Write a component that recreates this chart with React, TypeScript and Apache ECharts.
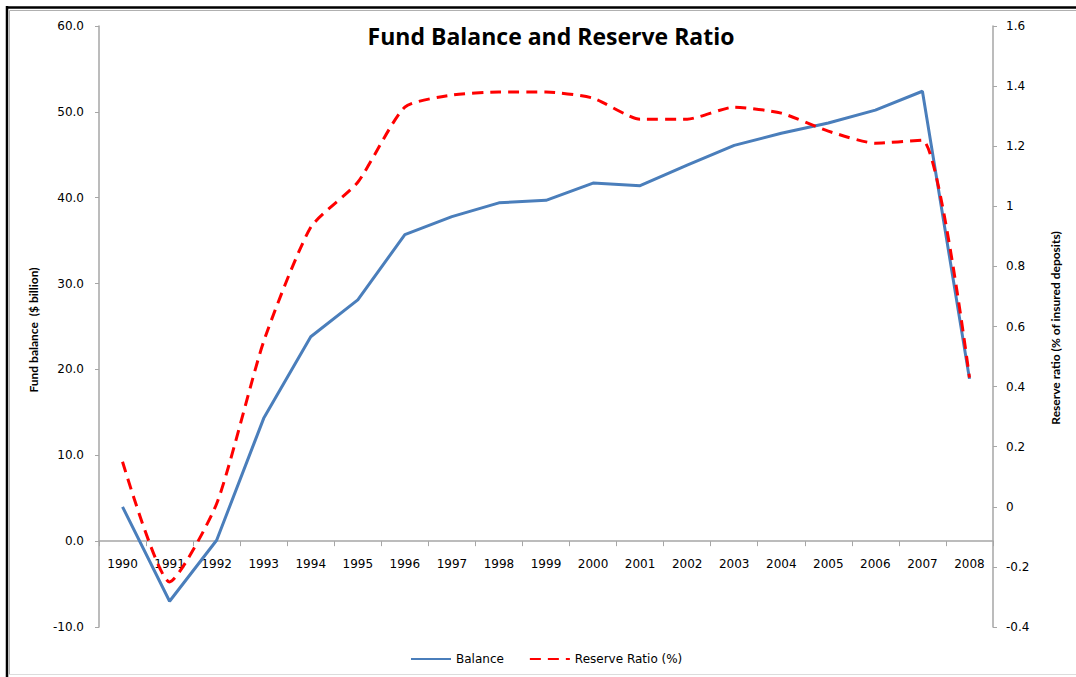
import React, { useEffect, useRef } from "react";
import * as echarts from "echarts";

const years = ["1990","1991","1992","1993","1994","1995","1996","1997","1998","1999","2000","2001","2002","2003","2004","2005","2006","2007","2008"];
const balance = [4.0, -7.0, 0.1, 14.3, 23.8, 28.1, 35.7, 37.8, 39.4, 39.7, 41.7, 41.4, 43.8, 46.1, 47.5, 48.7, 50.2, 52.4, 18.9];
const reserveRatio = [0.15, -0.25, 0.01, 0.55, 0.93, 1.08, 1.33, 1.37, 1.38, 1.38, 1.36, 1.29, 1.29, 1.33, 1.31, 1.25, 1.21, 1.22, 0.43];

const titleText = "Fund Balance and Reserve Ratio";
const leftAxisName = "Fund balance  ($ billion)";
const rightAxisName = "Reserve ratio (% of insured deposits)";

const leftMin = -10;
const leftMax = 60;

export default function App() {
  const ref = useRef<HTMLDivElement>(null);
  useEffect(() => {
    if (!ref.current) return;
    const chart = echarts.init(ref.current, null, { renderer: "svg" });
    const labelFont = "DejaVu Sans, Verdana, sans-serif";
    const nameFont = "Lato, 'Open Sans', sans-serif";
    const axisGrey = "#a6a6a6";
    const gridTop = 26;
    const gridBottom = 50;
    const plotH = 677 - gridTop - gridBottom;
    // shift the category axis up so that it sits on the left axis' zero
    const zeroOffset = -plotH * (0 - leftMin) / (leftMax - leftMin);
    chart.setOption({
      animation: false,
      backgroundColor: "#ffffff",
      grid: { left: 99, right: 83, top: gridTop, bottom: gridBottom, containLabel: false },
      title: {
        text: titleText,
        left: 546,
        top: 19,
        textAlign: "center",
        textStyle: { fontFamily: "'Open Sans', sans-serif", fontWeight: "bold", fontSize: 23, color: "#000" },
      },
      legend: {
        top: 648,
        left: 405,
        itemWidth: 40,
        itemHeight: 4,
        itemGap: 25,
        itemStyle: { opacity: 0 },
        textStyle: { fontFamily: labelFont, fontSize: 12, color: "#000" },
        data: ["Balance", "Reserve Ratio (%)"],
      },
      xAxis: {
        type: "category",
        data: years,
        boundaryGap: true,
        position: "bottom",
        offset: zeroOffset,
        axisLine: { onZero: false, lineStyle: { color: axisGrey, width: 1.5 } },
        axisTick: { show: true, length: 5, lineStyle: { color: axisGrey } },
        axisLabel: { margin: 17, fontFamily: labelFont, fontSize: 12, color: "#000", interval: 0 },
        splitLine: { show: false },
      },
      yAxis: [
        {
          type: "value",
          min: leftMin,
          max: leftMax,
          interval: 10,
          position: "left",
          axisLine: { show: true, onZero: false, lineStyle: { color: axisGrey, width: 1.5 } },
          axisTick: { show: true, length: 4, lineStyle: { color: axisGrey } },
          axisLabel: {
            margin: 15,
            fontFamily: labelFont,
            fontSize: 12,
            color: "#000",
            formatter: (v: number) => v.toFixed(1),
          },
          splitLine: { show: false },
        },
        {
          type: "value",
          min: -0.4,
          max: 1.6,
          interval: 0.2,
          position: "right",
          axisLine: { show: true, onZero: false, lineStyle: { color: axisGrey, width: 1.5 } },
          axisTick: { show: true, length: 4, lineStyle: { color: axisGrey } },
          axisLabel: {
            margin: 13,
            fontFamily: labelFont,
            fontSize: 12,
            color: "#000",
            formatter: (v: number) => String(Math.round(v * 10) / 10),
          },
          splitLine: { show: false },
        },
      ],
      series: [
        {
          name: "Balance",
          type: "line",
          yAxisIndex: 0,
          data: balance,
          symbol: "none",
          smooth: false,
          lineStyle: { color: "#4a7ebb", width: 3 },
          itemStyle: { color: "#4a7ebb" },
          z: 2,
        },
        {
          name: "Reserve Ratio (%)",
          type: "line",
          yAxisIndex: 1,
          data: reserveRatio,
          symbol: "none",
          smooth: 0.2,
          lineStyle: { color: "#ff0000", width: 3, type: [11, 7] },
          itemStyle: { color: "#ff0000" },
          z: 3,
        },
      ],
      graphic: [
        { type: "line", shape: { x1: 6, y1: 7.5, x2: 1076, y2: 7.5 }, style: { stroke: "#000", lineWidth: 2.5 } },
        { type: "line", shape: { x1: 7, y1: 6, x2: 7, y2: 677 }, style: { stroke: "#000", lineWidth: 2.5 } },
        { type: "line", shape: { x1: 9.5, y1: 10.5, x2: 1076, y2: 10.5 }, style: { stroke: "#b0b0b0", lineWidth: 1 } },
        { type: "line", shape: { x1: 9.5, y1: 10.5, x2: 9.5, y2: 674.5 }, style: { stroke: "#b0b0b0", lineWidth: 1 } },
        { type: "line", shape: { x1: 9.5, y1: 674.5, x2: 1076, y2: 674.5 }, style: { stroke: "#dcdcdc", lineWidth: 1 } },
        {
          type: "text",
          x: 33,
          y: 330,
          rotation: Math.PI / 2,
          style: {
            text: leftAxisName,
            fontFamily: nameFont,
            fontWeight: "bold",
            fontSize: 12,
            fill: "#000",
            align: "center",
            verticalAlign: "middle",
          },
        },
        {
          type: "text",
          x: 1055,
          y: 328,
          rotation: Math.PI / 2,
          style: {
            text: rightAxisName,
            fontFamily: nameFont,
            fontWeight: "bold",
            fontSize: 12,
            fill: "#000",
            align: "center",
            verticalAlign: "middle",
          },
        },
      ],
    });
    return () => chart.dispose();
  }, []);
  return (
    <div
      ref={ref}
      style={{ position: "fixed", left: 0, top: 0, width: 1076, height: 677, background: "#fff" }}
    />
  );
}
